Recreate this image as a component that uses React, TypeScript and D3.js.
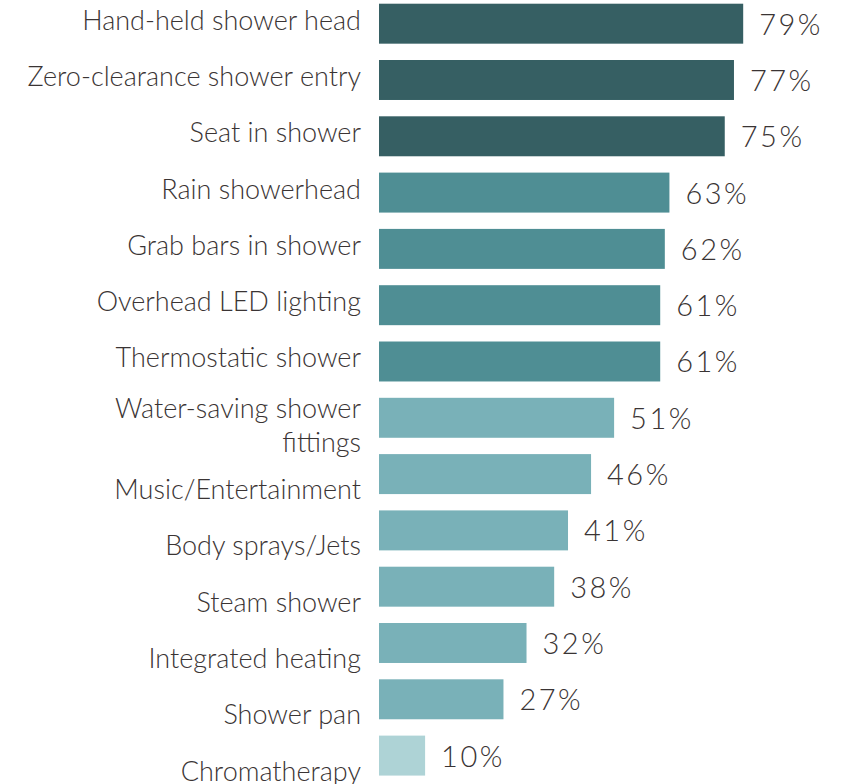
import React from "react";
import * as d3 from "d3";

const categories = [
  "Hand-held shower head",
  "Zero-clearance shower entry",
  "Seat in shower",
  "Rain showerhead",
  "Grab bars in shower",
  "Overhead LED lighting",
  "Thermostatic shower",
  "Water-saving shower fittings",
  "Music/Entertainment",
  "Body sprays/Jets",
  "Steam shower",
  "Integrated heating",
  "Shower pan",
  "Chromatherapy",
];
const values = [79, 77, 75, 63, 62, 61, 61, 51, 46, 41, 38, 32, 27, 10];
const valueLabels = ["79%", "77%", "75%", "63%", "62%", "61%", "61%", "51%", "46%", "41%", "38%", "32%", "27%", "10%"];

const W = 846;
const H = 784;
const FONT = "Lato, 'Open Sans', sans-serif";
const TEXT = "#3a3434";

function colorFor(v: number) {
  if (v >= 70) return "#365f63";
  if (v >= 55) return "#4f8e94";
  if (v >= 20) return "#79b1b8";
  return "#aed3d6";
}

function wrap(label: string): string[] {
  if (label === "Water-saving shower fittings") return ["Water-saving shower", "fittings"];
  return [label];
}

export default function App() {
  const y = d3
    .scaleBand<string>()
    .domain(categories)
    .range([-4.46, 783.74])
    .paddingInner(0.29)
    .paddingOuter(0.145);
  const x = d3.scaleLinear().domain([0, 100]).range([379, 840]);
  const labelRight = 361;

  return (
    <svg
      width={W}
      height={H}
      style={{ position: "absolute", left: 0, top: 0, background: "#fff" }}
      fontFamily={FONT}
    >
      {categories.map((c, i) => {
        const y0 = y(c)!;
        const bw = y.bandwidth();
        const cy = y0 + bw / 2;
        const v = values[i];
        const lines = wrap(c);
        const dy = lines.length > 1 ? 0 : i < 7 ? 6 : 25;
        return (
          <g key={c}>
            <rect x={x(0)} y={y0} width={x(v) - x(0)} height={bw} fill={colorFor(v)} />
            <text
              x={x(v) + 16}
              y={cy + 11}
              fontSize={29}
              fontWeight={300}
              letterSpacing={2.5}
              fill={TEXT}
            >
              {valueLabels[i]}
            </text>
            <text x={labelRight} y={cy + dy} textAnchor="end" fontSize={27} fontWeight={300} fill={TEXT}>
              {lines.map((l, k) => (
                <tspan key={k} x={labelRight} dy={k === 0 ? 0 : 34}>
                  {l}
                </tspan>
              ))}
            </text>
          </g>
        );
      })}
    </svg>
  );
}
